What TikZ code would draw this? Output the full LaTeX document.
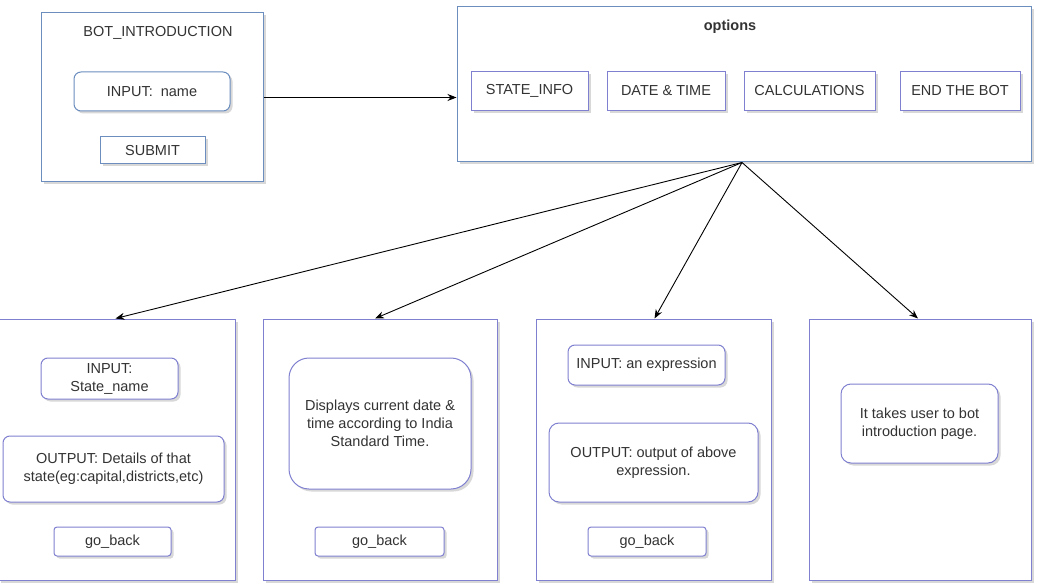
\documentclass[tikz,border=0pt]{standalone}
\usepackage{fontspec}
\setmainfont{Liberation Sans}
\usetikzlibrary{shadows,arrows.meta}
\definecolor{boxblue}{HTML}{6C8EBF}
\definecolor{boxpurple}{HTML}{8080D0}
\definecolor{txtgray}{HTML}{333333}
\tikzstyle{panel} = [draw=boxblue, line width=1pt, fill=white, rectangle,
    drop shadow={shadow xshift=2.5pt, shadow yshift=-2.5pt, fill=black!30}]
\tikzstyle{subpanel} = [panel, draw=boxpurple]
\tikzstyle{field} = [panel, rounded corners=7pt, text=txtgray, align=center,
    font=\fontsize{14.5}{18}\selectfont]
\tikzstyle{button} = [panel, draw=boxpurple, text=txtgray, align=center,
    font=\fontsize{14.5}{18}\selectfont]
\tikzstyle{pfield} = [field, draw=boxpurple]
\tikzstyle{link} = [-{Stealth[length=9pt,width=7pt]}, line width=0.9pt, black]

\begin{document}
\begin{tikzpicture}[x=1pt, y=-1pt]
    \useasboundingbox (0,0) rectangle (1038,585);
    % top left: bot introduction
    \node[panel, minimum width=222pt, minimum height=169pt] (intro) at (152,97.5) {};
    \node[text=txtgray, font=\fontsize{14.5}{18}\selectfont] (introtitle) at (158,33) {BOT\_INTRODUCTION};
    \node[field, minimum width=156pt, minimum height=39pt] (name) at (152,91.5) {INPUT:\ \ name};
    \node[field, rounded corners=0pt, minimum width=105pt, minimum height=27pt] (submit) at (152.5,150.5) {SUBMIT};
    % top right: options
    \node[panel, minimum width=574pt, minimum height=155pt] (options) at (744,84.5) {};
    \node[text=txtgray, font=\fontsize{14.5}{18}\selectfont\bfseries] (optitle) at (730,27) {options};
    \node[button, minimum width=117pt, minimum height=39pt] (stateinfo) at (529.5,91) {STATE\_INFO};
    \node[button, minimum width=118pt, minimum height=39pt] (datetime) at (666,91) {DATE \& TIME};
    \node[button, minimum width=131pt, minimum height=39pt] (calc) at (809.5,91) {CALCULATIONS};
    \node[button, minimum width=120pt, minimum height=39pt] (endbot) at (960,91) {END THE BOT};
    % bottom row
    \node[subpanel, minimum width=237pt, minimum height=261pt] (pstate) at (116.5,449.5) {};
    \node[subpanel, minimum width=234pt, minimum height=261pt] (pdate) at (380,449.5) {};
    \node[subpanel, minimum width=235pt, minimum height=261pt] (pcalc) at (653.5,449.5) {};
    \node[subpanel, minimum width=222pt, minimum height=261pt] (pend) at (920,449.5) {};
    % state info
    \node[pfield, minimum width=137pt, minimum height=41pt] (instate) at (109.5,378.5) {INPUT:\\State\_name};
    \node[pfield, minimum width=221pt, minimum height=66pt] (outstate) at (113.5,469) {OUTPUT: Details of that\\state(eg:capital,districts,etc)};
    \node[pfield, rounded corners=3pt, minimum width=117pt, minimum height=29pt] (backstate) at (112.5,541.5) {go\_back};
    % date and time
    \node[pfield, rounded corners=20pt, minimum width=182pt, minimum height=131pt] (showdate) at (380,423.5) {Displays current date \&\\time according to India\\Standard Time.};
    \node[pfield, rounded corners=3pt, minimum width=129pt, minimum height=29pt] (backdate) at (379.5,541.5) {go\_back};
    % calculations
    \node[pfield, minimum width=157pt, minimum height=40pt] (incalc) at (646.5,365) {INPUT: an expression};
    \node[pfield, rounded corners=10pt, minimum width=209pt, minimum height=79pt] (outcalc) at (653.5,462.5) {OUTPUT: output of above\\expression.};
    \node[pfield, rounded corners=3pt, minimum width=118pt, minimum height=29pt] (backcalc) at (647,541.5) {go\_back};
    % end the bot
    \node[pfield, rounded corners=10pt, minimum width=157pt, minimum height=79pt] (gointro) at (919.5,423.5) {It takes user to bot\\introduction page.};
    % connectors
    \draw[link] (intro.east) -- (options.west |- intro.east);
    \draw[link] ([xshift=-2pt]options.south) -- ([xshift=-1pt]pstate.north);
    \draw[link] ([xshift=-2pt]options.south) -- ([xshift=-5pt]pdate.north);
    \draw[link] ([xshift=-2pt]options.south) -- ([xshift=1pt]pcalc.north);
    \draw[link] ([xshift=-2pt]options.south) -- ([xshift=-2pt]pend.north);
\end{tikzpicture}
\end{document}
